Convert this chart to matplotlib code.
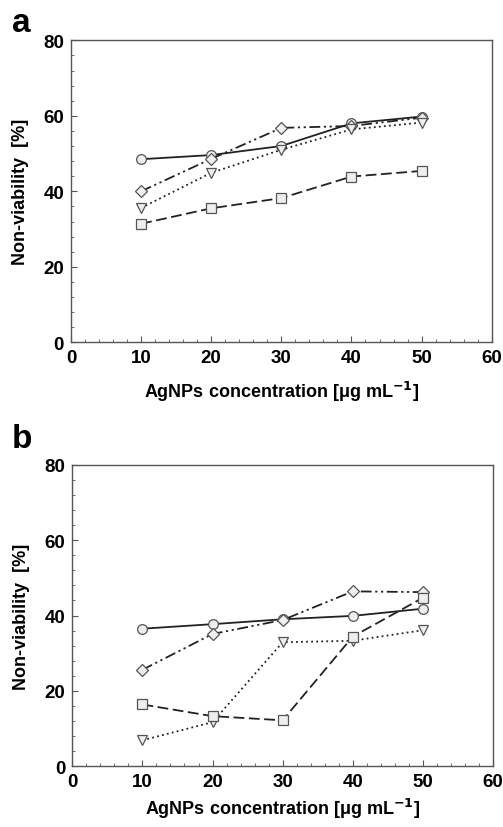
import numpy as np
import matplotlib
matplotlib.use('Agg')
import matplotlib.pyplot as plt
from matplotlib.ticker import MultipleLocator

plt.rcParams['font.family'] = ['Liberation Sans', 'DejaVu Sans']
plt.rcParams['font.weight'] = 'bold'
plt.rcParams['mathtext.default'] = 'regular'

conc = [10, 20, 30, 40, 50]

# panel a
a_circle = [48.5, 49.6, 52.0, 58.0, 59.8]
a_diamond = [40.0, 48.6, 56.8, 57.3, 59.5]
a_triangle = [35.6, 44.9, 51.0, 56.4, 58.2]
a_square = [31.4, 35.5, 38.2, 43.9, 45.4]

# panel b
b_circle = [36.5, 37.7, 39.0, 39.9, 41.8]
b_diamond = [25.6, 35.1, 38.8, 46.4, 46.2]
b_triangle = [6.9, 11.7, 32.9, 33.3, 36.1]
b_square = [16.4, 13.3, 12.2, 34.4, 44.7]

xlabel = 'AgNPs concentration [$\\mu$g mL$^{\\mathbf{-1}}$]'
ylabel = 'Non-viability  [%]'


def draw(ax, circ, diam, tri, sq, xlab_y):
    mk = dict(markersize=7, markerfacecolor='#eeeeee', markeredgecolor='#555555',
              markeredgewidth=0.9, color='#222222', linewidth=1.3)
    ax.plot(conc, circ, '-', marker='o', **mk)
    ax.plot(conc, diam, marker='D', linestyle=(0, (6, 2, 1.2, 2, 1.2, 2)), **dict(mk, markersize=6.5))
    ax.plot(conc, tri, marker='v', linestyle=(0, (1, 1.8)), **mk)
    ax.plot(conc, sq, marker='s', linestyle=(0, (6, 2.5)), **dict(mk, markersize=6.5))
    ax.set_xlim(0, 60)
    ax.set_ylim(0, 80)
    ax.xaxis.set_major_locator(MultipleLocator(10))
    ax.xaxis.set_minor_locator(MultipleLocator(2))
    ax.yaxis.set_major_locator(MultipleLocator(20))
    ax.yaxis.set_minor_locator(MultipleLocator(4))
    ax.tick_params(which='both', direction='in', top=False, right=False,
                   labelsize=13.5, color='#555555', pad=5)
    ax.tick_params(which='major', length=4)
    ax.tick_params(which='minor', length=2.5)
    for s in ax.spines.values():
        s.set_color('#555555')
        s.set_linewidth(1.0)
    for lab in ax.get_xticklabels() + ax.get_yticklabels():
        lab.set_fontweight('bold')
    ax.set_xlabel(xlabel, fontsize=13, fontweight='bold', va='center')
    ax.xaxis.set_label_coords(0.5, xlab_y)
    ax.set_ylabel(ylabel, fontsize=13, fontweight='bold', va='center')
    ax.yaxis.set_label_coords(-0.12, 0.5)


fig = plt.figure(figsize=(5.03, 8.28), dpi=100)
W, H = 503, 828
ax1 = fig.add_axes([71 / W, 1 - 343.3 / H, (491.7 - 71) / W, (343.3 - 41.3) / H])
ax2 = fig.add_axes([72.3 / W, 1 - 767.3 / H, (493 - 72.3) / W, (767.3 - 465.7) / H])
draw(ax1, a_circle, a_diamond, a_triangle, a_square, -0.161)
draw(ax2, b_circle, b_diamond, b_triangle, b_square, -0.138)

fig.text(12 / W, 1 - 8 / H, 'a', fontsize=24, fontweight='bold', va='top', ha='left')
fig.text(12 / W, 1 - 424 / H, 'b', fontsize=24, fontweight='bold', va='top', ha='left')

fig.savefig('out.png', dpi=100)
